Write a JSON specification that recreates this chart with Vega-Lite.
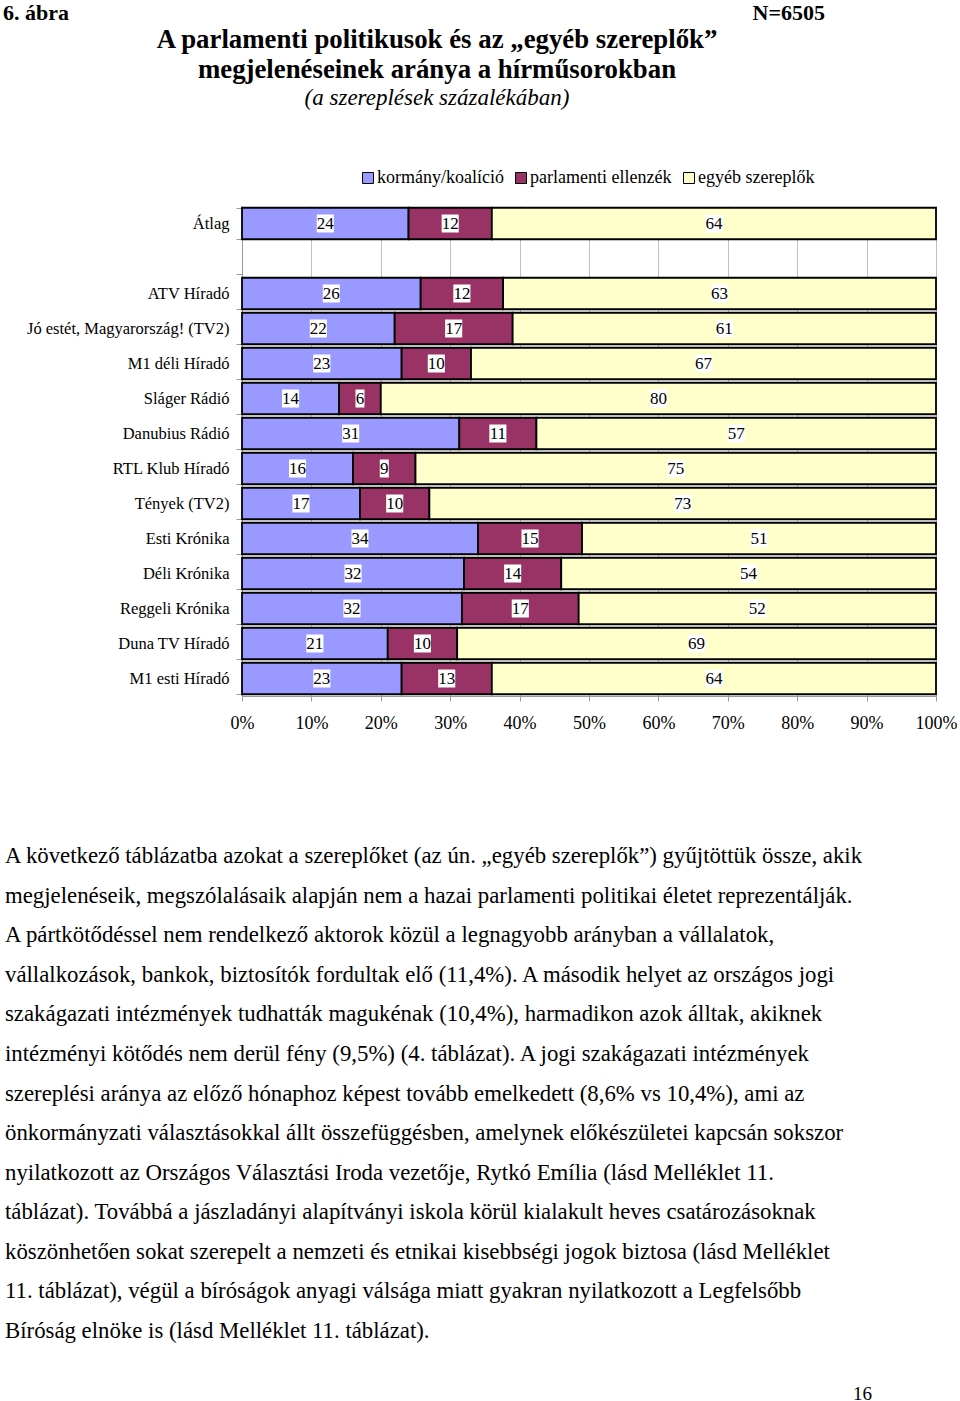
{
  "$schema": "https://vega.github.io/schema/vega-lite/v6.json",
  "padding": {"left": 3, "top": 2, "right": 0, "bottom": 0},
  "background": "white",
  "config": {
    "font": "Liberation Serif",
    "view": {"stroke": null},
    "axis": {"labelColor": "black", "labelFont": "Liberation Serif"},
    "legend": {"labelFont": "Liberation Serif"},
    "title": {"font": "Liberation Serif", "subtitleFont": "Liberation Serif", "color": "black", "subtitleColor": "black"}
  },
  "spacing": 113,
  "resolve": {"scale": {"color": "independent"}, "legend": {"color": "independent"}},
  "vconcat": [
    {
      "spacing": 3,
      "resolve": {"scale": {"color": "independent"}, "legend": {"color": "independent"}},
      "vconcat": [
        {
          "width": 583,
          "height": 22,
          "layer": [
            {
              "data": {"values": [{"label": "6. ábra"}]},
              "mark": {"type": "text", "align": "left", "baseline": "middle", "fontSize": 22, "fontWeight": "bold", "color": "black"},
              "encoding": {
                "x": {"datum": 0, "type": "quantitative", "scale": {"domain": [0, 1], "range": [-239, 583]}, "axis": null},
                "text": {"field": "label"}
              }
            },
            {
              "data": {"values": [{"label": "N=6505"}]},
              "mark": {"type": "text", "align": "right", "baseline": "middle", "fontSize": 22, "fontWeight": "bold", "color": "black"},
              "encoding": {
                "x": {"datum": 1, "type": "quantitative", "scale": {"domain": [0, 1], "range": [-239, 583]}, "axis": null},
                "text": {"field": "label"}
              }
            }
          ]
        },
        {
          "width": 694,
          "height": 490,
          "title": {
            "text": ["A parlamenti politikusok és az „egyéb szereplők”", "megjelenéseinek aránya a hírműsorokban"],
            "subtitle": "(a szereplések százalékában)",
            "fontSize": 26.8,
            "fontWeight": "bold",
            "lineHeight": 30,
            "subtitleFontSize": 23,
            "subtitleFontStyle": "italic",
            "subtitlePadding": 3,
            "anchor": "middle",
            "frame": "group",
            "dx": -152,
            "offset": 59
          },
          "data": {
            "values": [
              {"show": "Átlag", "cat": "kormány/koalíció", "value": 24},
              {"show": "Átlag", "cat": "parlamenti ellenzék", "value": 12},
              {"show": "Átlag", "cat": "egyéb szereplők", "value": 64},
              {"show": "ATV Híradó", "cat": "kormány/koalíció", "value": 26},
              {"show": "ATV Híradó", "cat": "parlamenti ellenzék", "value": 12},
              {"show": "ATV Híradó", "cat": "egyéb szereplők", "value": 63},
              {"show": "Jó estét, Magyarország! (TV2)", "cat": "kormány/koalíció", "value": 22},
              {"show": "Jó estét, Magyarország! (TV2)", "cat": "parlamenti ellenzék", "value": 17},
              {"show": "Jó estét, Magyarország! (TV2)", "cat": "egyéb szereplők", "value": 61},
              {"show": "M1 déli Híradó", "cat": "kormány/koalíció", "value": 23},
              {"show": "M1 déli Híradó", "cat": "parlamenti ellenzék", "value": 10},
              {"show": "M1 déli Híradó", "cat": "egyéb szereplők", "value": 67},
              {"show": "Sláger Rádió", "cat": "kormány/koalíció", "value": 14},
              {"show": "Sláger Rádió", "cat": "parlamenti ellenzék", "value": 6},
              {"show": "Sláger Rádió", "cat": "egyéb szereplők", "value": 80},
              {"show": "Danubius Rádió", "cat": "kormány/koalíció", "value": 31},
              {"show": "Danubius Rádió", "cat": "parlamenti ellenzék", "value": 11},
              {"show": "Danubius Rádió", "cat": "egyéb szereplők", "value": 57},
              {"show": "RTL Klub Híradó", "cat": "kormány/koalíció", "value": 16},
              {"show": "RTL Klub Híradó", "cat": "parlamenti ellenzék", "value": 9},
              {"show": "RTL Klub Híradó", "cat": "egyéb szereplők", "value": 75},
              {"show": "Tények (TV2)", "cat": "kormány/koalíció", "value": 17},
              {"show": "Tények (TV2)", "cat": "parlamenti ellenzék", "value": 10},
              {"show": "Tények (TV2)", "cat": "egyéb szereplők", "value": 73},
              {"show": "Esti Krónika", "cat": "kormány/koalíció", "value": 34},
              {"show": "Esti Krónika", "cat": "parlamenti ellenzék", "value": 15},
              {"show": "Esti Krónika", "cat": "egyéb szereplők", "value": 51},
              {"show": "Déli Krónika", "cat": "kormány/koalíció", "value": 32},
              {"show": "Déli Krónika", "cat": "parlamenti ellenzék", "value": 14},
              {"show": "Déli Krónika", "cat": "egyéb szereplők", "value": 54},
              {"show": "Reggeli Krónika", "cat": "kormány/koalíció", "value": 32},
              {"show": "Reggeli Krónika", "cat": "parlamenti ellenzék", "value": 17},
              {"show": "Reggeli Krónika", "cat": "egyéb szereplők", "value": 52},
              {"show": "Duna TV Híradó", "cat": "kormány/koalíció", "value": 21},
              {"show": "Duna TV Híradó", "cat": "parlamenti ellenzék", "value": 10},
              {"show": "Duna TV Híradó", "cat": "egyéb szereplők", "value": 69},
              {"show": "M1 esti Híradó", "cat": "kormány/koalíció", "value": 23},
              {"show": "M1 esti Híradó", "cat": "parlamenti ellenzék", "value": 13},
              {"show": "M1 esti Híradó", "cat": "egyéb szereplők", "value": 64}
            ]
          },
          "transform": [
            {"calculate": "indexof(['kormány/koalíció','parlamenti ellenzék','egyéb szereplők'], datum.cat)", "as": "ord"},
            {"stack": "value", "groupby": ["show"], "sort": [{"field": "ord", "order": "ascending"}], "offset": "normalize", "as": ["v0", "v1"]},
            {"calculate": "(datum.v0 + datum.v1) / 2", "as": "mid"}
          ],
          "encoding": {
            "y": {
              "field": "show",
              "type": "nominal",
              "sort": null,
              "scale": {
                "domain": ["Átlag", " ", "ATV Híradó", "Jó estét, Magyarország! (TV2)", "M1 déli Híradó", "Sláger Rádió", "Danubius Rádió", "RTL Klub Híradó", "Tények (TV2)", "Esti Krónika", "Déli Krónika", "Reggeli Krónika", "Duna TV Híradó", "M1 esti Híradó"],
                "paddingInner": 0.1,
                "paddingOuter": 0.05
              },
              "axis": {
                "title": null,
                "labelFontSize": 16.5,
                "labelPadding": 7,
                "tickSize": 6,
                "tickBand": "extent",
                "tickColor": "#999999",
                "domainColor": "#999999",
                "labelLimit": 400,
                "minExtent": 239,
                "maxExtent": 239
              }
            }
          },
          "layer": [
            {
              "mark": {"type": "bar", "stroke": "black", "strokeWidth": 1.8},
              "encoding": {
                "x": {
                  "field": "v0",
                  "type": "quantitative",
                  "scale": {"domain": [0, 1], "nice": false},
                  "axis": {
                    "title": null,
                    "format": ".0%",
                    "values": [0, 0.1, 0.2, 0.3, 0.4, 0.5, 0.6, 0.7, 0.8, 0.9, 1],
                    "grid": true,
                    "gridColor": "#c0c0c0",
                    "labelFontSize": 18,
                    "labelPadding": 13,
                    "labelFlush": false,
                    "tickSize": 5,
                    "tickColor": "#999999",
                    "domainColor": "#999999"
                  }
                },
                "x2": {"field": "v1"},
                "color": {
                  "field": "cat",
                  "type": "nominal",
                  "scale": {
                    "domain": ["kormány/koalíció", "parlamenti ellenzék", "egyéb szereplők"],
                    "range": ["#9999FF", "#993366", "#FFFFCC"]
                  },
                  "legend": {
                    "title": null,
                    "orient": "none",
                    "legendX": 117,
                    "legendY": -37,
                    "direction": "horizontal",
                    "symbolType": "square",
                    "symbolSize": 121,
                    "symbolStrokeColor": "black",
                    "symbolStrokeWidth": 1,
                    "labelFontSize": 18,
                    "labelOffset": 0,
                    "columnPadding": 8,
                    "padding": 0,
                    "labelLimit": 300
                  }
                }
              }
            },
            {
              "mark": {"type": "point", "filled": true, "color": "white", "opacity": 1, "size": 324, "strokeWidth": 0},
              "encoding": {
                "x": {"field": "mid", "type": "quantitative"},
                "shape": {
                  "condition": {"test": "datum.value < 10", "value": "M-0.5,-1H0.5V1H-0.5Z"},
                  "value": "M-0.95,-1H0.95V1H-0.95Z"
                }
              }
            },
            {
              "mark": {"type": "text", "fontSize": 17, "color": "black", "baseline": "middle"},
              "encoding": {
                "x": {"field": "mid", "type": "quantitative"},
                "text": {"field": "value", "type": "quantitative"}
              }
            }
          ]
        }
      ]
    },
    {
      "width": 630,
      "height": 475,
      "title": {"text": "16", "orient": "bottom", "anchor": "end", "frame": "group", "fontSize": 19, "fontWeight": "normal", "offset": 42},
      "data": {
        "values": [
          {"line": 1, "text": "A következő táblázatba azokat a szereplőket (az ún. „egyéb szereplők”) gyűjtöttük össze, akik"},
          {"line": 2, "text": "megjelenéseik, megszólalásaik alapján nem a hazai parlamenti politikai életet reprezentálják."},
          {"line": 3, "text": "A pártkötődéssel nem rendelkező aktorok közül a legnagyobb arányban a vállalatok,"},
          {"line": 4, "text": "vállalkozások, bankok, biztosítók fordultak elő (11,4%). A második helyet az országos jogi"},
          {"line": 5, "text": "szakágazati intézmények tudhatták magukénak (10,4%), harmadikon azok álltak, akiknek"},
          {"line": 6, "text": "intézményi kötődés nem derül fény (9,5%) (4. táblázat). A jogi szakágazati intézmények"},
          {"line": 7, "text": "szereplési aránya az előző hónaphoz képest tovább emelkedett (8,6% vs 10,4%), ami az"},
          {"line": 8, "text": "önkormányzati választásokkal állt összefüggésben, amelynek előkészületei kapcsán sokszor"},
          {"line": 9, "text": "nyilatkozott az Országos Választási Iroda vezetője, Rytkó Emília (lásd Melléklet 11."},
          {"line": 10, "text": "táblázat). Továbbá a jászladányi alapítványi iskola körül kialakult heves csatározásoknak"},
          {"line": 11, "text": "köszönhetően sokat szerepelt a nemzeti és etnikai kisebbségi jogok biztosa (lásd Melléklet"},
          {"line": 12, "text": "11. táblázat), végül a bíróságok anyagi válsága miatt gyakran nyilatkozott a Legfelsőbb"},
          {"line": 13, "text": "Bíróság elnöke is (lásd Melléklet 11. táblázat)."}
        ]
      },
      "mark": {"type": "text", "align": "left", "baseline": "middle", "fontSize": 22.8, "color": "black"},
      "encoding": {
        "x": {"datum": 0, "type": "quantitative", "scale": {"domain": [0, 1], "range": [-237, 630]}, "axis": null},
        "y": {"field": "line", "type": "ordinal", "scale": {"type": "point", "padding": 0}, "axis": null},
        "text": {"field": "text"}
      }
    }
  ]
}
